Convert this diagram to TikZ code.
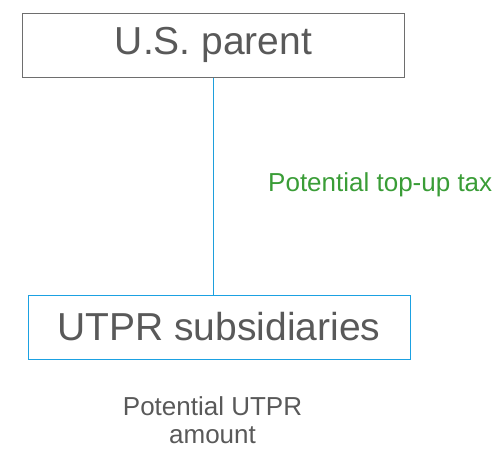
\documentclass[tikz,border=0pt]{standalone}
\usepackage{fontspec}
\setmainfont{Liberation Sans}
\usetikzlibrary{positioning}

\definecolor{txtgray}{HTML}{595959}
\definecolor{boxgray}{HTML}{6E6E6E}
\definecolor{utprblue}{HTML}{1BA1E2}
\definecolor{linkblue}{HTML}{1E9FDC}
\definecolor{taxgreen}{HTML}{3A9D37}

\tikzset{
  entity/.style={draw=#1, line width=1pt, minimum width=382pt, minimum height=64pt,
    inner sep=0pt, text=txtgray, font=\fontsize{39}{44}\selectfont},
  note/.style={inner sep=0pt, font=\fontsize{26}{27.5}\selectfont},
  link/.style={draw=linkblue, line width=1.2pt},
}

\begin{document}
\begin{tikzpicture}[x=1pt,y=-1pt]
\useasboundingbox (0,0) rectangle (495,448);

% Entity boxes
\node[entity=boxgray] (parent) at (213.5,45) {U.S. parent};
\node[entity=utprblue] (subs) at (219,327) {UTPR subsidiaries};

% Ownership line
\draw[link] (parent.south) -- (subs.north -| parent.south);

% Labels
\node[note, text=taxgreen, anchor=base west] (toptax) at (268,191.5) {Potential top-up tax};
\node[note, text=txtgray, anchor=base, align=center] (amount) at (212.5,443) {Potential UTPR\\amount};
\end{tikzpicture}
\end{document}
